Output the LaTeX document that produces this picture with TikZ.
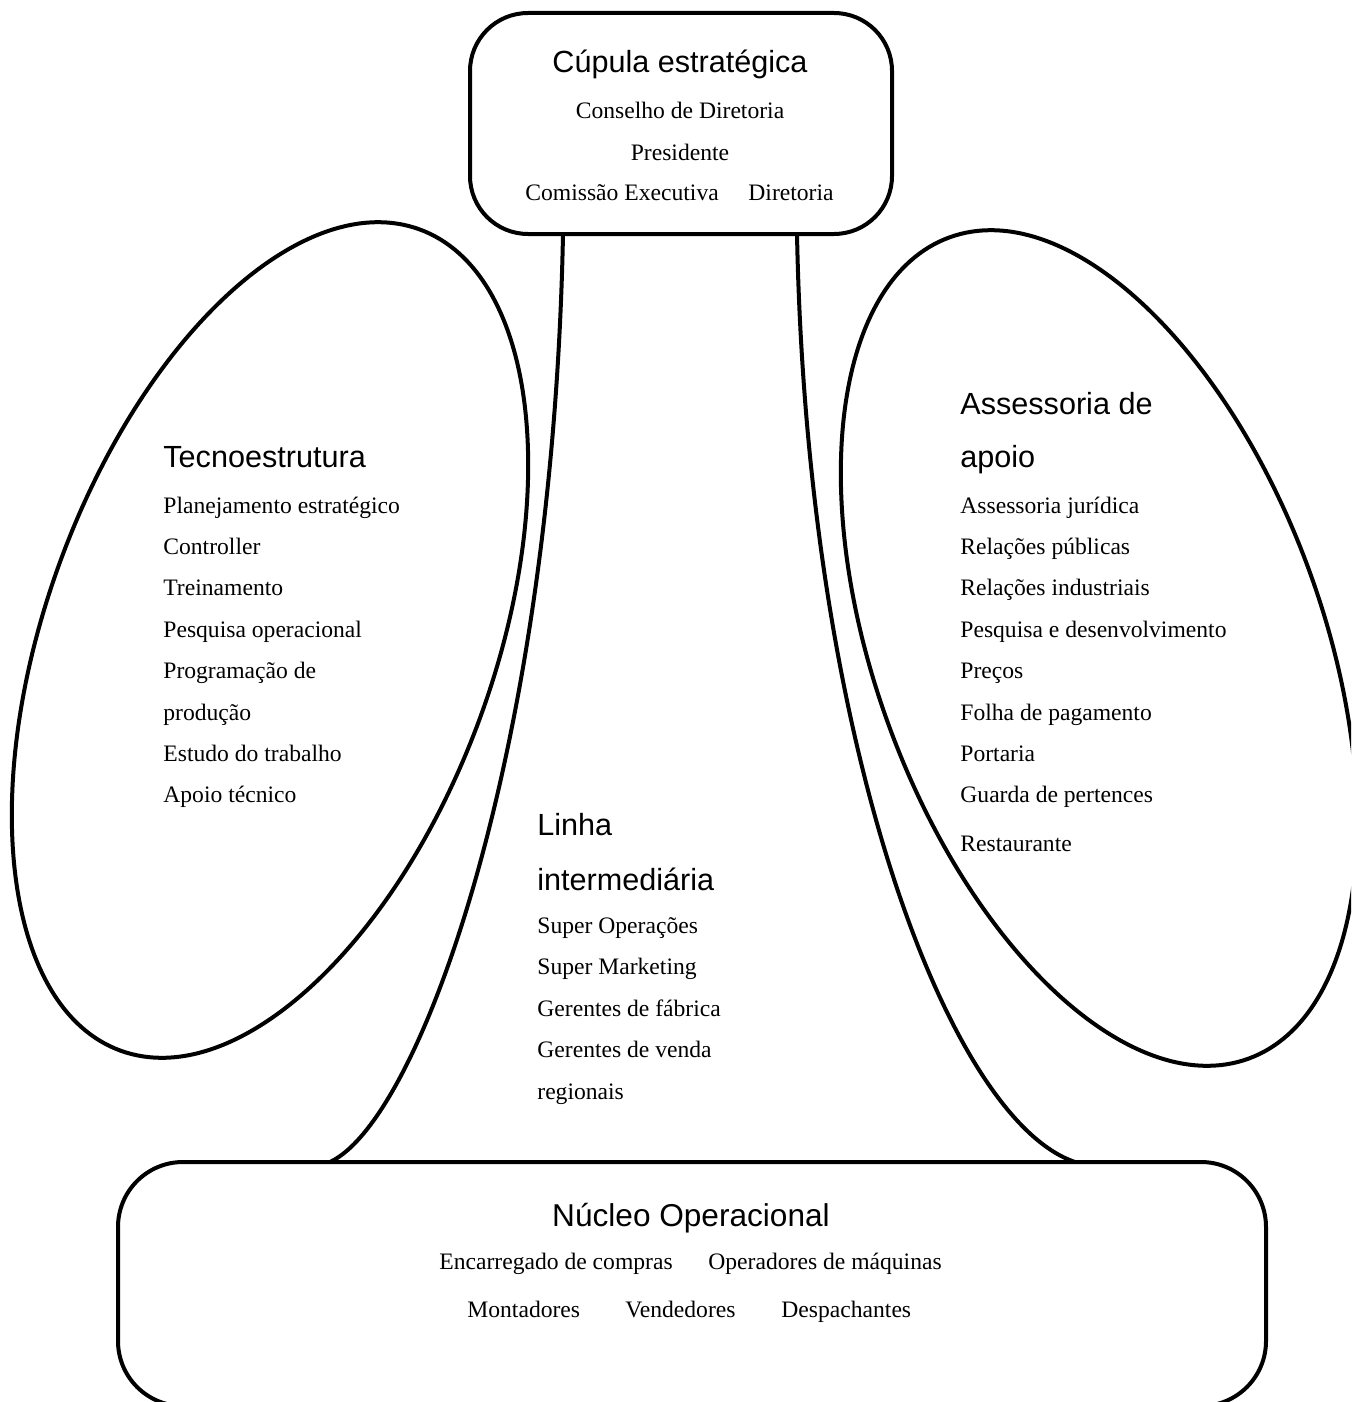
\documentclass[tikz,border=0pt]{standalone}
\usepackage{fontspec}
\setmainfont{Liberation Serif}
\newfontfamily\headfont{Liberation Sans}
\usetikzlibrary{calc}

\begin{document}
\begin{tikzpicture}[x=0.5pt,y=0.5pt,line join=round,
  outline/.style={line width=2pt},
  titletext/.style={font=\headfont\fontsize{15.3}{18}\selectfont,inner sep=0pt},
  entry/.style={font=\fontsize{11.8}{14}\selectfont,inner sep=0pt,anchor=base west}]
\useasboundingbox (0,0) rectangle (1351,-1402);
\clip (0,0) rectangle (1351,-1402);
% side ellipses
\draw[outline,rotate around={-20:(270,-640)}] (270,-640) ellipse [x radius=112pt,y radius=218.5pt];
\draw[outline,rotate around={20:(1099,-648)}] (1099,-648) ellipse [x radius=112pt,y radius=218.5pt];
% top and bottom boxes
\draw[outline,rounded corners=29pt] (470,-13) rectangle (892,-234);
\draw[outline,rounded corners=32.5pt] (118,-1162) rectangle (1266,-1406);
% middle line (funnel)
\coordinate (topL) at (563,-234);
\coordinate (topR) at (797,-234);
\coordinate (botL) at (330,-1162);
\coordinate (botR) at (1075,-1162);
\draw[outline] (topL) .. controls (553,-750) and (420,-1120) .. (botL);
\draw[outline] (topR) .. controls (807,-750) and (950,-1120) .. (botR);
% strategic apex
\node[titletext,anchor=base] (cupula) at (680,-73) {Cúpula estratégica};
\node[entry,anchor=base] (conselho) at (680,-119) {Conselho de Diretoria};
\node[entry,anchor=base] (presidente) at (680,-160) {Presidente};
\node[entry] (comissao) at (525,-200) {Comissão Executiva};
\node[entry] (diretoria) at (748,-200) {Diretoria};
% technostructure
\node[titletext,anchor=base west] (tecno) at (163,-467) {Tecnoestrutura};
\foreach \txt [count=\i] in {Planejamento estratégico,Controller,Treinamento,
    Pesquisa operacional,Programação de,produção,Estudo do trabalho,Apoio técnico}
  \node[entry] (tec\i) at (163,{-513-41.4*(\i-1)}) {\txt};
% support staff
\node[titletext,anchor=base west] (assess) at (960,-414) {Assessoria de};
\node[titletext,anchor=base west] (apoio) at (960,-467) {apoio};
\foreach \txt [count=\i] in {Assessoria jurídica,Relações públicas,Relações industriais,
    Pesquisa e desenvolvimento,Preços,Folha de pagamento,Portaria,Guarda de pertences}
  \node[entry] (apo\i) at (960,{-513-41.4*(\i-1)}) {\txt};
\node[entry] (restaurante) at (960,-851) {Restaurante};
% middle line
\node[titletext,anchor=base west] (linha) at (537,-835) {Linha};
\node[titletext,anchor=base west] (interm) at (537,-890) {intermediária};
\foreach \txt [count=\i] in {Super Operações,Super Marketing,Gerentes de fábrica,
    Gerentes de venda,regionais}
  \node[entry] (lin\i) at (537,{-933-41.5*(\i-1)}) {\txt};
% operating core
\node[titletext,anchor=base,font=\headfont\fontsize{15.8}{18}\selectfont] (nucleo) at (691,-1226) {Núcleo Operacional};
\node[entry] (encarregado) at (439,-1269) {Encarregado de compras};
\node[entry] (operadores) at (708,-1269) {Operadores de máquinas};
\node[entry] (montadores) at (467,-1317) {Montadores};
\node[entry] (vendedores) at (625,-1317) {Vendedores};
\node[entry] (despachantes) at (781,-1317) {Despachantes};
\end{tikzpicture}
\end{document}
